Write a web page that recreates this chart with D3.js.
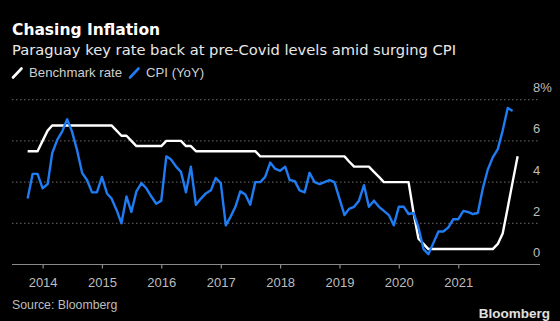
<!DOCTYPE html>
<html lang="en">
<head>
    <meta charset="utf-8">
    <title>Chasing Inflation</title>
    <script src="https://cdn.jsdelivr.net/npm/d3@7"></script>
    <style>
        html, body { margin: 0; padding: 0; background: #000; }
        svg { display: block; }
        text { font-family: "Liberation Sans", Arial, sans-serif; }
        .head { font-family: "DejaVu Sans", "Liberation Sans", sans-serif; }
    </style>
</head>
<body>
</body>
</html>
<script>
    // first month of both series (month-end readings)
    var startMonth = "2013-09";

    // Paraguay benchmark rate, monthly, Sep 2013 - Dec 2021
    var rateValues = [
        5.5, 5.5, 5.5, 6.0, 6.5, 6.75, 6.75, 6.75, 6.75, 6.75,
        6.75, 6.75, 6.75, 6.75, 6.75, 6.75, 6.75, 6.75, 6.5, 6.25,
        6.25, 6.0, 5.75, 5.75, 5.75, 5.75, 5.75, 5.75, 6.0, 6.0,
        6.0, 6.0, 5.75, 5.75, 5.5, 5.5, 5.5, 5.5, 5.5, 5.5,
        5.5, 5.5, 5.5, 5.5, 5.5, 5.5, 5.5, 5.25, 5.25, 5.25,
        5.25, 5.25, 5.25, 5.25, 5.25, 5.25, 5.25, 5.25, 5.25, 5.25,
        5.25, 5.25, 5.25, 5.25, 5.25, 5.0, 4.75, 4.75, 4.75, 4.75,
        4.5, 4.25, 4.0, 4.0, 4.0, 4.0, 4.0, 4.0, 2.5, 1.25,
        1.0, 0.75, 0.75, 0.75, 0.75, 0.75, 0.75, 0.75, 0.75, 0.75,
        0.75, 0.75, 0.75, 0.75, 0.75, 1.0, 1.5, 2.75, 4.0, 5.25
    ];

    // CPI YoY %, monthly, Sep 2013 - Nov 2021
    var cpiValues = [
        3.2, 4.4, 4.4, 3.7, 3.9, 5.4, 6.05, 6.45, 7.05, 6.45,
        5.55, 4.45, 4.1, 3.5, 3.5, 4.25, 3.45, 3.2, 2.65, 2.0,
        3.3, 2.55, 3.55, 3.95, 3.7, 3.3, 2.95, 3.1, 5.25, 5.1,
        4.75, 4.5, 3.5, 4.75, 2.9, 3.2, 3.45, 3.6, 4.2, 3.95,
        1.9, 2.3, 2.8, 3.55, 3.4, 2.9, 4.0, 4.0, 4.25, 4.95,
        4.65, 4.55, 4.75, 4.1, 4.05, 3.6, 3.5, 4.45, 4.0, 3.9,
        4.0, 4.1, 4.0, 3.2, 2.4, 2.7, 2.8, 3.1, 3.85, 2.8,
        3.1, 2.8, 2.6, 2.4, 1.9, 2.8, 2.8, 2.45, 2.5, 1.8,
        0.75, 0.5, 1.05, 1.6, 1.6, 1.8, 2.2, 2.2, 2.6, 2.55,
        2.45, 2.5, 3.7, 4.6, 5.2, 5.6, 6.5, 7.6, 7.45
    ];

    var yearTicks = [2014, 2015, 2016, 2017, 2018, 2019, 2020, 2021];
    var yTicks = [0, 2, 4, 6, 8];
    var seriesNames = ["Benchmark rate", "CPI (YoY)"];
    var seriesColors = ["#ffffff", "#1f7cf2"];

    var width = 560;
    var height = 321;

    var svg = d3.select("body")
            .append("svg")
            .attr("width", width)
            .attr("height", height);

    svg.append("rect")
            .attr("width", width)
            .attr("height", height)
            .attr("fill", "#000");

    // month-end dates, drawn at the start of the following month
    var parseMonth = d3.timeParse("%Y-%m");
    var first = parseMonth(startMonth);
    function monthDate(i) {
        return d3.timeMonth.offset(first, i + 1);
    }

    var x = d3.scaleTime()
            .domain([new Date(2014, 0, 1), new Date(2021, 0, 1)])
            .range([42.6, 458.3]);
    var y = d3.scaleLinear()
            .domain([0, 8])
            .range([264.5, 99.7]);

    // titles
    svg.append("text")
            .attr("class", "head")
            .attr("x", 12)
            .attr("y", 34.5)
            .attr("fill", "#fff")
            .attr("font-size", 15.5)
            .attr("font-weight", "bold")
            .text("Chasing Inflation");
    svg.append("text")
            .attr("class", "head")
            .attr("x", 12)
            .attr("y", 54.5)
            .attr("fill", "#e8e8e8")
            .attr("font-size", 14.7)
            .text("Paraguay key rate back at pre-Covid levels amid surging CPI");

    // legend
    var legend = svg.append("g").attr("class", "legend");
    var legendX = [13, 130];
    seriesNames.forEach(function (name, i) {
        legend.append("line")
                .attr("x1", legendX[i])
                .attr("y1", 77.5)
                .attr("x2", legendX[i] + 8.5)
                .attr("y2", 68.5)
                .attr("stroke", seriesColors[i])
                .attr("stroke-width", 2.6)
                .attr("stroke-linecap", "round");
        legend.append("text")
                .attr("x", legendX[i] + 16)
                .attr("y", 77.3)
                .attr("fill", "#cfcfcf")
                .attr("font-size", 13.2)
                .text(name);
    });

    // gridlines
    svg.append("g")
            .attr("class", "grid")
            .selectAll("line")
            .data(yTicks.filter(function (d) { return d > 0; }))
            .enter()
            .append("line")
            .attr("x1", 12)
            .attr("x2", 540)
            .attr("y1", function (d) { return y(d); })
            .attr("y2", function (d) { return y(d); })
            .attr("stroke", "#6a6a6a")
            .attr("stroke-width", 1)
            .attr("stroke-dasharray", "1.5,2.5");

    // y labels (right side, above the lines)
    svg.append("g")
            .selectAll("text")
            .data(yTicks)
            .enter()
            .append("text")
            .attr("x", 533)
            .attr("y", function (d) { return y(d) - 7.5; })
            .attr("fill", "#bdbdbd")
            .attr("font-size", 13)
            .text(function (d) { return d === 8 ? d + "%" : d; });

    // x axis
    var xAxis = d3.axisBottom(x)
            .tickValues(yearTicks.map(function (yr) { return new Date(yr, 0, 1); }))
            .tickSize(4)
            .tickFormat(d3.timeFormat("%Y"));
    var gx = svg.append("g")
            .attr("transform", "translate(0,264.5)")
            .call(xAxis);
    gx.select(".domain").remove();
    gx.insert("line", ":first-child")
            .attr("x1", 12)
            .attr("x2", 540)
            .attr("stroke", "#8a8a8a")
            .attr("stroke-width", 1.2);
    gx.selectAll(".tick line").attr("stroke", "#8a8a8a").attr("stroke-width", 1.2);
    gx.selectAll(".tick text")
            .attr("fill", "#bdbdbd")
            .attr("font-size", 13)
            .attr("font-family", "Liberation Sans, Arial, sans-serif")
            .attr("dy", null)
            .attr("y", 22.5);

    // series lines
    var line = d3.line()
            .x(function (d, i) { return x(monthDate(i)); })
            .y(function (d) { return y(d); });

    svg.append("path")
            .datum(rateValues)
            .attr("fill", "none")
            .attr("stroke", seriesColors[0])
            .attr("stroke-width", 2.4)
            .attr("stroke-linejoin", "round")
            .attr("d", line);

    svg.append("path")
            .datum(cpiValues)
            .attr("fill", "none")
            .attr("stroke", seriesColors[1])
            .attr("stroke-width", 2.4)
            .attr("stroke-linejoin", "round")
            .attr("d", line);

    // footer
    svg.append("text")
            .attr("x", 12)
            .attr("y", 309.3)
            .attr("fill", "#bdbdbd")
            .attr("font-size", 12.3)
            .text("Source: Bloomberg");
    svg.append("text")
            .attr("x", 550)
            .attr("y", 318)
            .attr("text-anchor", "end")
            .attr("fill", "#e0e0e0")
            .attr("font-size", 13.5)
            .attr("font-weight", "bold")
            .text("Bloomberg");
</script>
